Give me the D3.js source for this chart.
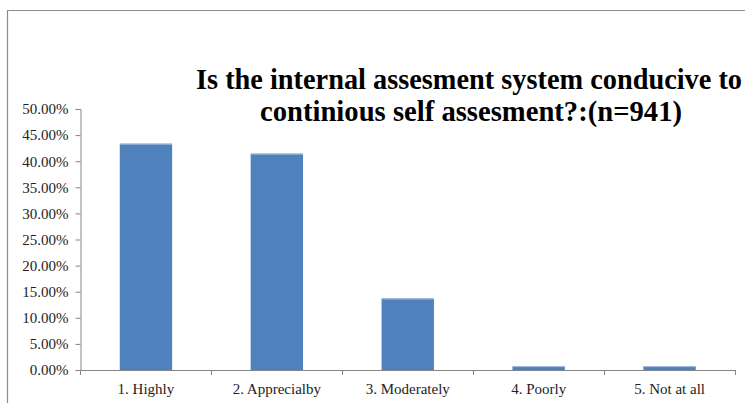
<!DOCTYPE html>
<html>
<head>
<meta charset="utf-8">
<script src="https://cdn.jsdelivr.net/npm/d3@7"></script>
<style>
  html, body { margin: 0; padding: 0; background: #fff; }
  svg { display: block; }
</style>
</head>
<body>
<svg id="chart" width="745" height="403"></svg>
<script>
const categories = ["1. Highly", "2. Apprecialby", "3. Moderately", "4. Poorly", "5. Not at all"];
const values = [0.4336, 0.4145, 0.1371, 0.0074, 0.0074];
const yTicks = [0, 0.05, 0.10, 0.15, 0.20, 0.25, 0.30, 0.35, 0.40, 0.45, 0.50];
const titleLines = ["Is the internal assesment system conducive to", "continious self assesment?:(n=941)"];

(function () {
const svg = d3.select("#chart");
const W = 745, H = 403;
const plotLeft = 80.5, plotRight = 735, plotTop = 109, plotBottom = 370;
const serif = "'Liberation Serif', 'Times New Roman', Times, serif";

// outer frame (cut off at right and bottom)
svg.append("path")
  .attr("d", `M7.5,${H + 5} L7.5,10.5 L${W + 5},10.5`)
  .attr("fill", "none").attr("stroke", "#8c8c8c").attr("stroke-width", 1.2);

const x = d3.scaleBand().domain(categories).range([plotLeft, plotRight]).paddingInner(0.6).paddingOuter(0.3);
const y = d3.scaleLinear().domain([0, 0.5]).range([plotBottom, plotTop]);

// y axis
const yAxis = svg.append("g").attr("transform", `translate(${plotLeft},0)`)
  .call(d3.axisLeft(y).tickValues(yTicks).tickFormat(d3.format(".2%")).tickSizeOuter(0).tickSize(5));
yAxis.select(".domain").attr("stroke", "#868686");
yAxis.selectAll(".tick line").attr("stroke", "#868686");
yAxis.selectAll(".tick text")
  .attr("x", -12)
  .attr("font-family", serif)
  .attr("font-size", 15).attr("fill", "#222");

// bars
const bars = svg.append("g");
bars.selectAll("rect").data(values).join("rect")
  .attr("x", (d, i) => x(categories[i]))
  .attr("y", d => y(d))
  .attr("width", x.bandwidth())
  .attr("height", d => plotBottom - y(d))
  .attr("fill", "#4F81BD");
bars.selectAll("line").data(values).join("line")
  .attr("x1", (d, i) => x(categories[i]))
  .attr("x2", (d, i) => x(categories[i]) + x.bandwidth())
  .attr("y1", d => y(d) + 0.5)
  .attr("y2", d => y(d) + 0.5)
  .attr("stroke", "#a7bfdf").attr("stroke-width", 1);

// x axis
const xAxis = svg.append("g").attr("transform", `translate(0,${plotBottom})`)
  .call(d3.axisBottom(x).tickSize(0).tickSizeOuter(0));
xAxis.select(".domain").attr("stroke", "#868686");
xAxis.selectAll(".tick text")
  .attr("y", 13)
  .attr("font-family", serif)
  .attr("font-size", 15).attr("fill", "#222");
// category boundary ticks
const bounds = categories.map(c => x(c) - x.step() * 0.3).concat([plotRight]);
xAxis.selectAll(".bound").data(bounds).join("line").attr("class", "bound")
  .attr("x1", d => Math.round(d) + 0.5).attr("x2", d => Math.round(d) + 0.5)
  .attr("y1", 0).attr("y2", 5)
  .attr("stroke", "#868686");

// title
const tl = [{ x0: 196, w: 546, yb: 89 }, { x0: 260, w: 422, yb: 121 }];
svg.append("g").selectAll("text").data(titleLines).join("text")
  .attr("x", (d, i) => tl[i].x0)
  .attr("y", (d, i) => tl[i].yb)
  .attr("textLength", (d, i) => tl[i].w)
  .attr("lengthAdjust", "spacingAndGlyphs")
  .attr("font-family", serif)
  .attr("font-weight", "bold")
  .attr("font-size", 29)
  .attr("fill", "#000")
  .text(d => d);
})();
</script>
</body>
</html>
